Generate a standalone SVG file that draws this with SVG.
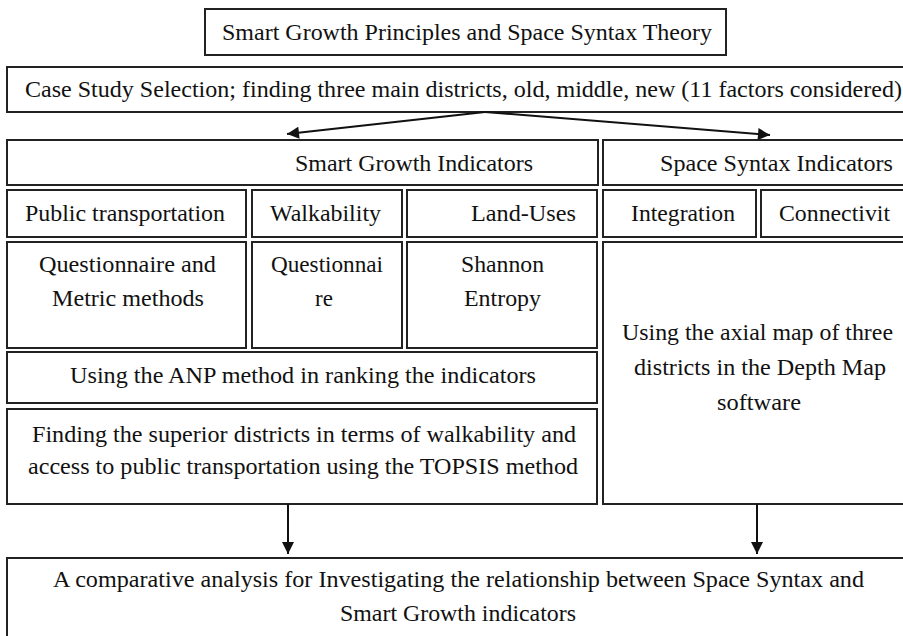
<svg xmlns="http://www.w3.org/2000/svg" width="903" height="636" viewBox="0 0 903 636">
<style>
rect{fill:#fff;stroke:#222;stroke-width:2}
text{font-family:"Liberation Serif","Times New Roman",serif;font-size:23px;fill:#111;text-anchor:middle}
.c line{stroke:#111;stroke-width:2}
</style>
<defs>
<marker id="ah2" viewBox="0 0 10 10" refX="10" refY="5" markerWidth="15" markerHeight="12" markerUnits="userSpaceOnUse" orient="auto">
<path d="M0,0 L10,5 L0,10 z" fill="#111"/>
</marker>
</defs>
<rect width="903" height="636" style="fill:#fff;stroke:none"/>
<g id="n-title"><rect x="205" y="9" width="521" height="46"/><text x="467" y="40" textLength="490" lengthAdjust="spacingAndGlyphs">Smart Growth Principles and Space Syntax Theory</text></g>
<g id="n-case"><rect x="7" y="67" width="905" height="45"/><text x="463.5" y="97" textLength="877" lengthAdjust="spacingAndGlyphs">Case Study Selection; finding three main districts, old, middle, new (11 factors considered)</text></g>
<g id="n-sg"><rect x="7" y="140" width="591" height="45"/><text x="414" y="171" textLength="238" lengthAdjust="spacingAndGlyphs">Smart Growth Indicators</text></g>
<g id="n-ss"><rect x="603" y="140" width="310" height="45"/><text x="776.5" y="171" textLength="233" lengthAdjust="spacingAndGlyphs">Space Syntax Indicators</text></g>
<g id="n-pt"><rect x="7" y="190" width="239" height="47"/><text x="125" y="221" textLength="200" lengthAdjust="spacingAndGlyphs">Public transportation</text></g>
<g id="n-walk"><rect x="252" y="190" width="150" height="47"/><text x="325.5" y="221" textLength="111" lengthAdjust="spacingAndGlyphs">Walkability</text></g>
<g id="n-lu"><rect x="407" y="190" width="190" height="47"/><text x="523.5" y="221" textLength="105" lengthAdjust="spacingAndGlyphs">Land-Uses</text></g>
<g id="n-int"><rect x="603" y="190" width="153" height="47"/><text x="683" y="221" textLength="104" lengthAdjust="spacingAndGlyphs">Integration</text></g>
<g id="n-conn"><rect x="761" y="190" width="152" height="47"/><text x="834.5" y="221" textLength="111" lengthAdjust="spacingAndGlyphs">Connectivit</text></g>
<g id="n-qm"><rect x="7" y="242" width="239" height="106"/><text x="127.5" y="272" textLength="177" lengthAdjust="spacingAndGlyphs">Questionnaire and</text><text x="128" y="306" textLength="152" lengthAdjust="spacingAndGlyphs">Metric methods</text></g>
<g id="n-q"><rect x="252" y="242" width="150" height="106"/><text x="327" y="272" textLength="112" lengthAdjust="spacingAndGlyphs">Questionnai</text><text x="324" y="306">re</text></g>
<g id="n-se"><rect x="407" y="242" width="190" height="106"/><text x="502.5" y="272" textLength="83" lengthAdjust="spacingAndGlyphs">Shannon</text><text x="502.5" y="306" textLength="77" lengthAdjust="spacingAndGlyphs">Entropy</text></g>
<g id="n-axial"><rect x="603" y="242" width="310" height="262"/><text x="757.5" y="340" textLength="271" lengthAdjust="spacingAndGlyphs">Using the axial map of three</text><text x="760" y="375" textLength="252" lengthAdjust="spacingAndGlyphs">districts in the Depth Map</text><text x="759" y="410" textLength="84" lengthAdjust="spacingAndGlyphs">software</text></g>
<g id="n-anp"><rect x="7" y="352" width="590" height="51"/><text x="303" y="383" textLength="466" lengthAdjust="spacingAndGlyphs">Using the ANP method in ranking the indicators</text></g>
<g id="n-topsis"><rect x="7" y="409" width="590" height="95"/><text x="304" y="442" textLength="544" lengthAdjust="spacingAndGlyphs">Finding the superior districts in terms of walkability and</text><text x="303" y="474" textLength="550" lengthAdjust="spacingAndGlyphs">access to public transportation using the TOPSIS method</text></g>
<g id="n-final"><rect x="7" y="558" width="905" height="85"/><text x="458.5" y="587" textLength="811" lengthAdjust="spacingAndGlyphs">A comparative analysis for Investigating the relationship between Space Syntax and</text><text x="458" y="621" textLength="236" lengthAdjust="spacingAndGlyphs">Smart Growth indicators</text></g>
<g id="connectors" class="c">
<line x1="485" y1="112" x2="287" y2="134" marker-end="url(#ah2)"/>
<line x1="485" y1="112" x2="770" y2="135" marker-end="url(#ah2)"/>
<line x1="288" y1="504" x2="288" y2="554" marker-end="url(#ah2)"/>
<line x1="757" y1="504" x2="757" y2="554" marker-end="url(#ah2)"/>
</g>
</svg>
